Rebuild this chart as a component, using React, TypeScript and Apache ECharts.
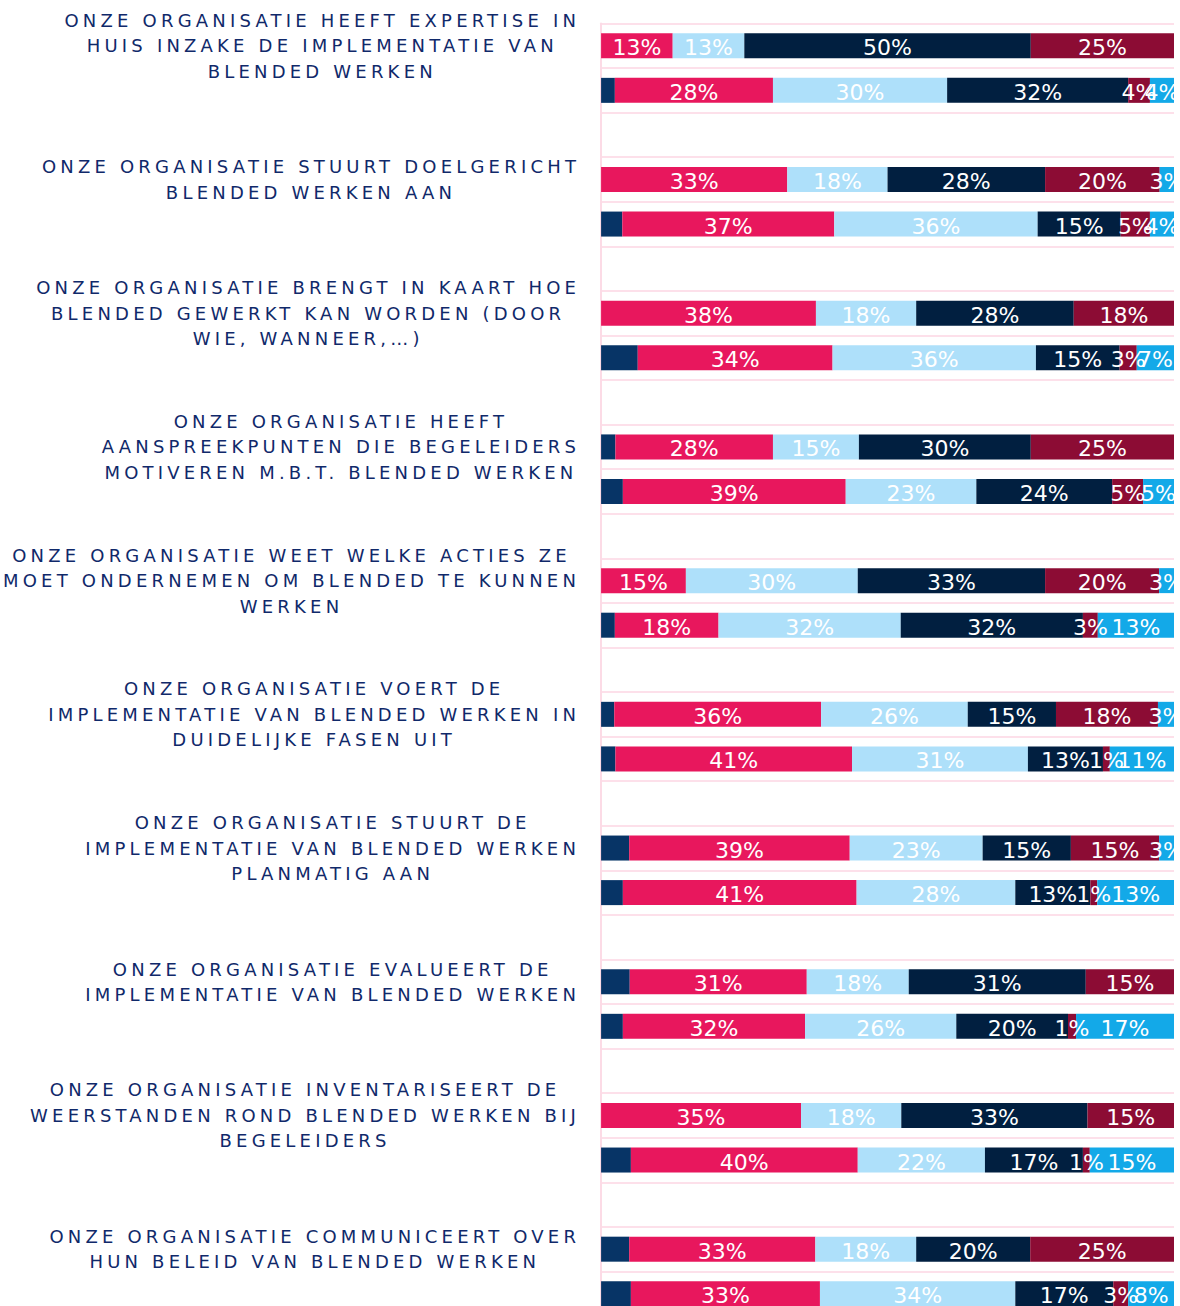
import React, { useEffect, useRef } from "react";
import * as echarts from "echarts";

// ---- Data -------------------------------------------------------------
const statements: string[][] = [
  ["ONZE ORGANISATIE HEEFT EXPERTISE IN", "HUIS INZAKE DE IMPLEMENTATIE VAN", "BLENDED WERKEN"],
  ["ONZE ORGANISATIE STUURT DOELGERICHT", "BLENDED WERKEN AAN"],
  ["ONZE ORGANISATIE BRENGT IN KAART HOE", "BLENDED GEWERKT KAN WORDEN (DOOR", "WIE, WANNEER,…)"],
  ["ONZE ORGANISATIE HEEFT", "AANSPREEKPUNTEN DIE BEGELEIDERS", "MOTIVEREN M.B.T. BLENDED WERKEN"],
  ["ONZE ORGANISATIE WEET WELKE ACTIES ZE", "MOET ONDERNEMEN OM BLENDED TE KUNNEN", "WERKEN"],
  ["ONZE ORGANISATIE VOERT DE", "IMPLEMENTATIE VAN BLENDED WERKEN IN", "DUIDELIJKE FASEN UIT"],
  ["ONZE ORGANISATIE STUURT DE", "IMPLEMENTATIE VAN BLENDED WERKEN", "PLANMATIG AAN"],
  ["ONZE ORGANISATIE EVALUEERT DE", "IMPLEMENTATIE VAN BLENDED WERKEN"],
  ["ONZE ORGANISATIE INVENTARISEERT DE", "WEERSTANDEN ROND BLENDED WERKEN BIJ", "BEGELEIDERS"],
  ["ONZE ORGANISATIE COMMUNICEERT OVER", "HUN BELEID VAN BLENDED WERKEN"],
];

// first bar of each statement ("top") and second bar ("bottom"), in %
const s0Top = [0, 0, 0, 2.5, 0, 2.3, 4.9, 5.0, 0, 4.9];
const s0Bottom = [2.4, 3.7, 6.4, 3.8, 2.4, 2.5, 3.8, 3.8, 5.2, 5.2];
const s1Top = [12.5, 32.5, 37.5, 27.5, 14.8, 36.1, 38.5, 30.9, 34.9, 32.5];
const s1Bottom = [27.6, 37.0, 34.0, 38.9, 18.1, 41.3, 40.8, 31.8, 39.6, 33.0];
const s2Top = [12.5, 17.5, 17.5, 15.0, 30.0, 25.6, 23.2, 17.8, 17.5, 17.6];
const s2Bottom = [30.4, 35.5, 35.5, 22.8, 31.8, 30.7, 27.7, 26.4, 22.2, 34.1];
const s3Top = [50.0, 27.5, 27.5, 30.0, 32.7, 15.4, 15.4, 30.9, 32.5, 19.9];
const s3Bottom = [31.6, 14.5, 14.6, 23.7, 31.8, 13.1, 13.1, 19.5, 17.1, 17.1];
const s4Top = [25.0, 20.0, 17.5, 25.0, 19.9, 17.8, 15.4, 15.4, 15.1, 25.1];
const s4Bottom = [3.8, 5.1, 3.0, 5.4, 2.6, 1.2, 1.2, 1.4, 1.2, 2.6];
const s5Top = [0, 2.5, 0, 0, 2.6, 2.8, 2.6, 0, 0, 0];
const s5Bottom = [4.2, 4.2, 6.5, 5.4, 13.3, 11.2, 13.4, 17.1, 14.7, 8.0];

const seriesNames = ["Reeks 0", "Reeks 1", "Reeks 2", "Reeks 3", "Reeks 4", "Reeks 5"];
const seriesColors = ["#073466", "#e8175d", "#aee0fa", "#011f40", "#8c0c34", "#13a9e8"];
const seriesTop = [s0Top, s1Top, s2Top, s3Top, s4Top, s5Top];
const seriesBottom = [s0Bottom, s1Bottom, s2Bottom, s3Bottom, s4Bottom, s5Bottom];
const showLabel = [false, true, true, true, true, true];

// ---- Letter-spaced category labels ------------------------------------
const LS = 4.2;
const SPACED_FAMILY = "LSpaced, 'DejaVu Sans', sans-serif";
let measureCtx: CanvasRenderingContext2D | null = null;
const setPlatform = (echarts as any).setPlatformAPI;
if (typeof setPlatform === "function") {
  setPlatform({
    measureText: (text: string, font?: string) => {
      if (!measureCtx) measureCtx = document.createElement("canvas").getContext("2d");
      const f = font || "12px sans-serif";
      measureCtx!.font = f;
      const w = measureCtx!.measureText(text).width;
      const extra = f.indexOf("LSpaced") >= 0 ? text.length * LS : 0;
      return { width: w + extra } as any;
    },
  });
}

// ---- Build slots: bar, bar, empty per statement -----------------------
const slotKeys: string[] = [];
statements.forEach((_, i) => {
  slotKeys.push("s" + i + "a", "s" + i + "b", "s" + i + "gap");
});
const toSlots = (top: number[], bottom: number[]) =>
  top.flatMap((v, i) => [v, bottom[i], null]);

const SLOT = 44.57;

export default function App() {
  const ref = useRef<HTMLDivElement>(null);
  useEffect(() => {
    const chart = echarts.init(ref.current!, null, { renderer: "svg" });
    chart.setOption({
      animation: false,
      backgroundColor: "#ffffff",
      grid: { left: 601, right: 0, top: 23.5, height: SLOT * slotKeys.length, containLabel: false },
      xAxis: {
        type: "value",
        min: 0,
        max: 100,
        show: false,
        splitLine: { show: false },
      },
      yAxis: {
        type: "category",
        inverse: true,
        data: slotKeys,
        axisLine: { show: true, lineStyle: { color: "#fcdbe6", width: 2 } },
        axisTick: { show: false, interval: 0 },
        splitLine: { show: true, interval: 0, lineStyle: { color: "#fde0ea", width: 2 } },
        axisLabel: {
          interval: 0,
          margin: 21,
          fontFamily: SPACED_FAMILY,
          fontSize: 18,
          color: "#10296a",
          formatter: (_v: string, idx: number) => {
            if (idx % 3 !== 0) return "";
            const lines = statements[idx / 3];
            return lines.map((l) => "{c|" + l + "}").join("\n");
          },
          rich: {
            c: {
              fontFamily: SPACED_FAMILY,
              fontSize: 18,
              color: "#10296a",
              lineHeight: 25.5,
              align: "center",
            },
          },
        },
      },
      series: seriesNames.map((name, k) => ({
        name,
        type: "bar",
        stack: "total",
        barWidth: 25,
        data: toSlots(seriesTop[k], seriesBottom[k]),
        itemStyle: { color: seriesColors[k] },
        label: {
          show: showLabel[k],
          position: "inside",
          offset: [0, 2],
          color: "#ffffff",
          fontFamily: "'DejaVu Sans', sans-serif",
          fontSize: 22,
          formatter: (p: any) => (p.value ? Math.round(p.value) + "%" : ""),
        },
        emphasis: { disabled: true },
      })),
    });
    return () => chart.dispose();
  }, []);

  return (
    <div
      style={{
        position: "absolute",
        left: 0,
        top: 0,
        width: 1174,
        height: 1306,
        overflow: "hidden",
        background: "#ffffff",
      }}
    >
      <style>{`text[style*="LSpaced"]{letter-spacing:${LS}px;}`}</style>
      <div ref={ref} style={{ width: 1174, height: 1400 }} />
    </div>
  );
}
